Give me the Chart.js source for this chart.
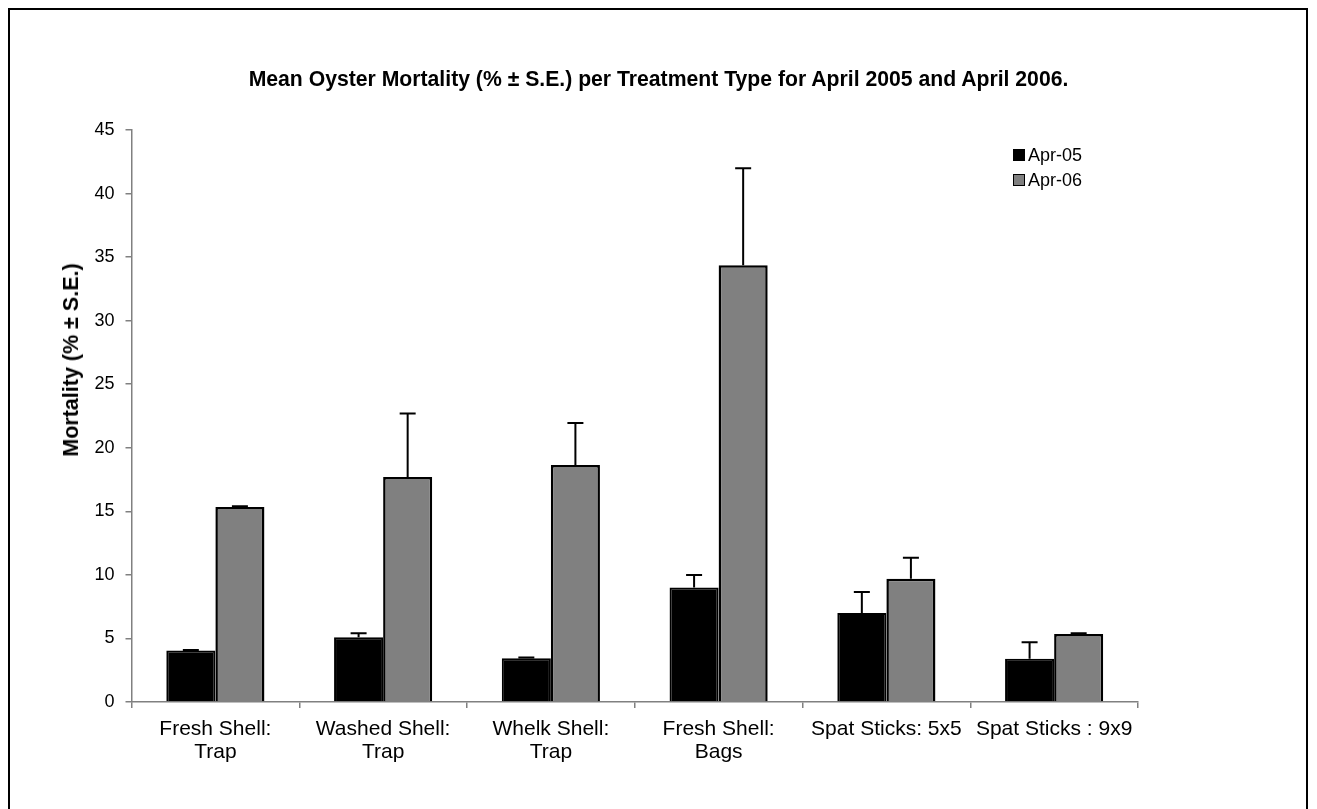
<!DOCTYPE html>
<html>
<head>
<meta charset="utf-8">
<script src="https://cdn.jsdelivr.net/npm/chart.js@4"></script>
<style>
  html, body { margin: 0; padding: 0; background: #fff; }
  body { width: 1317px; height: 809px; position: relative; overflow: hidden; font-family: "Liberation Sans", Arial, sans-serif; }
  #frame { position: absolute; left: 8px; top: 8px; width: 1296px; height: 830px; border: 2px solid #000; }
  #wrap { position: absolute; left: 0; top: 0; width: 1317px; height: 809px; }
  #title { position: absolute; left: 0; width: 1317px; top: 67px; line-height: 24px; text-align: center; font-weight: bold; font-size: 21.2px; color: #000; }
  #ytitle { position: absolute; left: 71px; top: 360px; transform: translate(-50%, -50%) rotate(-90deg); white-space: nowrap; font-weight: bold; font-size: 21.5px; line-height: 24px; color: #000; }
  .leg { position: absolute; left: 1013px; font-size: 18px; color: #000; line-height: 20px; }
  .leg span.box { display: inline-block; width: 10px; height: 10px; border: 1px solid #000; margin-right: 3px; vertical-align: 0px; }
</style>
</head>
<body>
<div id="frame"></div>
<div id="wrap"><canvas id="c" width="1317" height="809"></canvas></div>
<div id="title">Mean Oyster Mortality (% ± S.E.) per Treatment Type for April 2005 and April 2006.</div>
<div id="ytitle">Mortality (% ± S.E.)</div>
<div class="leg" style="top:145px"><span class="box" style="background:#000"></span>Apr-05</div>
<div class="leg" style="top:170px"><span class="box" style="background:#808080"></span>Apr-06</div>
<script>
const categories = [["Fresh Shell:", "Trap"], ["Washed Shell:", "Trap"], ["Whelk Shell:", "Trap"], ["Fresh Shell:", "Bags"], "Spat Sticks: 5x5", "Spat Sticks : 9x9"];
const seriesNames = ["Apr-05", "Apr-06"];
const apr05 = [4.05, 5.1, 3.45, 9.0, 7.0, 3.4];
const apr05Err = [0.05, 0.3, 0.05, 1.0, 1.65, 1.3];
const apr06 = [15.35, 17.7, 18.65, 34.35, 9.7, 5.35];
const apr06Err = [0.05, 5.0, 3.3, 7.65, 1.65, 0.05];
const yTicks = [0, 5, 10, 15, 20, 25, 30, 35, 40, 45];

const errs = [apr05Err, apr06Err];

const errorBarPlugin = {
  id: 'errorBars',
  afterDatasetsDraw(chart) {
    const ctx = chart.ctx;
    const yScale = chart.scales.y;
    ctx.save();
    ctx.strokeStyle = '#000';
    ctx.lineWidth = 2;
    chart.data.datasets.forEach((ds, di) => {
      const meta = chart.getDatasetMeta(di);
      meta.data.forEach((bar, i) => {
        const v = ds.data[i];
        const e = errs[di][i];
        const y0 = yScale.getPixelForValue(v);
        const y1 = yScale.getPixelForValue(v + e);
        ctx.beginPath();
        ctx.moveTo(bar.x, y0);
        ctx.lineTo(bar.x, y1);
        ctx.moveTo(bar.x - 8, y1);
        ctx.lineTo(bar.x + 8, y1);
        ctx.stroke();
      });
    });
    ctx.restore();
  }
};

new Chart(document.getElementById('c'), {
  type: 'bar',
  data: {
    labels: categories,
    datasets: [
      { label: seriesNames[0], data: apr05, backgroundColor: '#000000', borderColor: '#000000', borderWidth: 2, categoryPercentage: 0.585, barPercentage: 1.0 },
      { label: seriesNames[1], data: apr06, backgroundColor: '#808080', borderColor: '#000000', borderWidth: 2.5, categoryPercentage: 0.585, barPercentage: 1.0 }
    ]
  },
  options: {
    responsive: false,
    animation: false,
    events: [],
    layout: { padding: { top: 130, left: 0, right: 179, bottom: 0 } },
    plugins: { legend: { display: false }, title: { display: false }, tooltip: { enabled: false } },
    scales: {
      x: {
        afterFit(s) { s.height = 107; },
        grid: { drawOnChartArea: false, color: '#808080', tickLength: 6, lineWidth: 1.5 },
        border: { color: '#808080', width: 1.5 },
        ticks: { color: '#000', font: { family: '"Liberation Sans", Arial, sans-serif', size: 21, lineHeight: 1.1 }, padding: 10, maxRotation: 0, autoSkip: false }
      },
      y: {
        min: 0, max: 45,
        afterFit(s) { s.width = 131.5; },
        afterBuildTicks(s) { s.ticks = yTicks.map(v => ({ value: v })); },
        grid: { drawOnChartArea: false, color: '#808080', tickLength: 6, lineWidth: 1.5 },
        border: { color: '#808080', width: 1.5 },
        ticks: { color: '#000', font: { family: '"Liberation Sans", Arial, sans-serif', size: 18 }, padding: 11 }
      }
    }
  },
  plugins: [errorBarPlugin]
});
</script>
</body>
</html>
